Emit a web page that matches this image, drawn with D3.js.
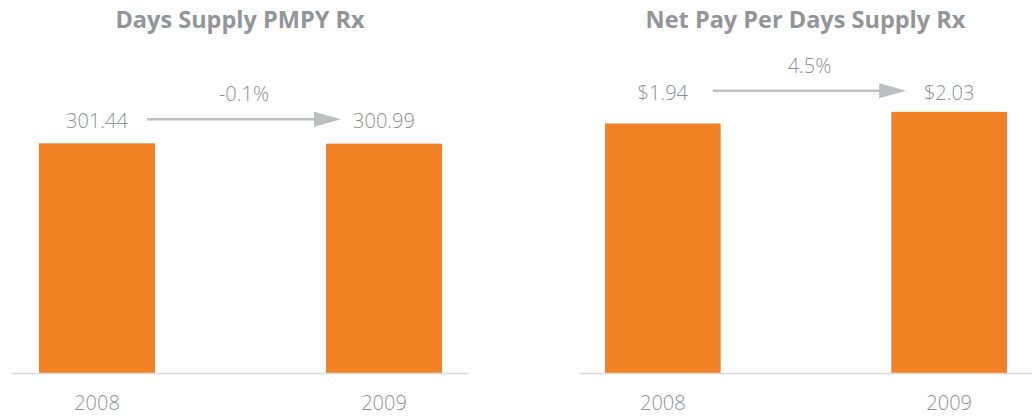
<!DOCTYPE html>
<html>
<head>
<meta charset="utf-8">
<script src="https://cdn.jsdelivr.net/npm/d3@7"></script>
<style>
  body { margin: 0; background: #fff; }
  svg { display: block; font-family: "Open Sans", sans-serif; }
</style>
</head>
<body>
<div id="chart"></div>
<script>
// data
const years = ["2008", "2009"];
const titles = ["Days Supply PMPY Rx", "Net Pay Per Days Supply Rx"];
const daysSupply = [301.44, 300.99];
const netPay = [1.94, 2.03];
const valueLabels = [["301.44", "300.99"], ["$1.94", "$2.03"]];
const changeLabels = ["-0.1%", "4.5%"];

const W = 1032, H = 416;
const orange = "#f38226";
const textGray = "#8e9093";

const svg = d3.select("#chart").append("svg")
  .attr("width", W)
  .attr("height", H);

class BarPanel {
  constructor(config) {
    this.config = config;
    this.init();
  }

  init() {
    const c = this.config;
    this.g = svg.append("g");

    this.x = d3.scaleBand()
      .domain(years)
      .range(c.barRange)
      .paddingInner(0.596)
      .paddingOuter(0);

    this.y = d3.scaleLinear()
      .domain([0, c.yMax])
      .range([373.5, 50]);
  }

  render() {
    const c = this.config, g = this.g, x = this.x, y = this.y;
    const data = years.map((yr, i) => ({ year: yr, value: c.values[i], label: c.labels[i] }));

    // title
    g.append("text")
      .attr("x", (c.left + c.right) / 2)
      .attr("y", 28)
      .attr("text-anchor", "middle")
      .attr("fill", "#939598")
      .style("font-size", "23.5px")
      .style("font-weight", 700)
      .text(c.title);

    // bars
    g.selectAll("rect")
      .data(data)
      .join("rect")
      .attr("x", d => x(d.year))
      .attr("y", d => y(d.value))
      .attr("width", x.bandwidth())
      .attr("height", d => y(0) - y(d.value))
      .attr("fill", orange);

    // baseline
    g.append("line")
      .attr("x1", c.left).attr("x2", c.right)
      .attr("y1", y(0)).attr("y2", y(0))
      .attr("stroke", "#d9d9d9")
      .attr("stroke-width", 1.5);

    // year labels
    const xAxis = d3.axisBottom(x).tickSize(0).tickPadding(0);
    const ax = g.append("g")
      .attr("transform", `translate(0, ${y(0)})`)
      .call(xAxis);
    ax.select(".domain").remove();
    ax.selectAll("text")
      .attr("dy", 0)
      .attr("y", 36.5)
      .attr("fill", textGray)
      .style("font-size", "20px")
      .style("font-weight", 300)
      .style("font-family", "Open Sans, sans-serif");

    // value labels
    const labelY = y(d3.max(c.values)) - c.labelGap;
    g.selectAll("text.val")
      .data(data)
      .join("text")
      .attr("class", "val")
      .attr("x", d => x(d.year) + x.bandwidth() / 2)
      .attr("y", labelY)
      .attr("text-anchor", "middle")
      .attr("fill", textGray)
      .style("font-size", "20px")
      .style("font-weight", 300)
      .text(d => d.label);

    // arrow
    const ay = labelY - 9;
    const x0 = x(years[0]) + x.bandwidth() / 2 + 50;
    const x1 = x(years[1]) + x.bandwidth() / 2 - 43;
    g.append("line")
      .attr("x1", x0).attr("x2", x1 - 24)
      .attr("y1", ay).attr("y2", ay)
      .attr("stroke", "#bcbec0")
      .attr("stroke-width", 2.5);
    g.append("path")
      .attr("d", `M${x1 - 27},${ay - 7.5} L${x1},${ay} L${x1 - 27},${ay + 7.5} Z`)
      .attr("fill", "#bcbec0");

    // change label
    g.append("text")
      .attr("x", (x0 + x1) / 2)
      .attr("y", labelY - 27)
      .attr("text-anchor", "middle")
      .attr("fill", textGray)
      .style("font-size", "20px")
      .style("font-weight", 300)
      .text(c.change);
  }
}

new BarPanel({
  title: titles[0], values: daysSupply, labels: valueLabels[0], change: changeLabels[0],
  left: 11, right: 469, barRange: [39, 442], yMax: 423.6, labelGap: 15
}).render();

new BarPanel({
  title: titles[1], values: netPay, labels: valueLabels[1], change: changeLabels[1],
  left: 579, right: 1032, barRange: [605, 1007], yMax: 2.51, labelGap: 12
}).render();
</script>
</body>
</html>
